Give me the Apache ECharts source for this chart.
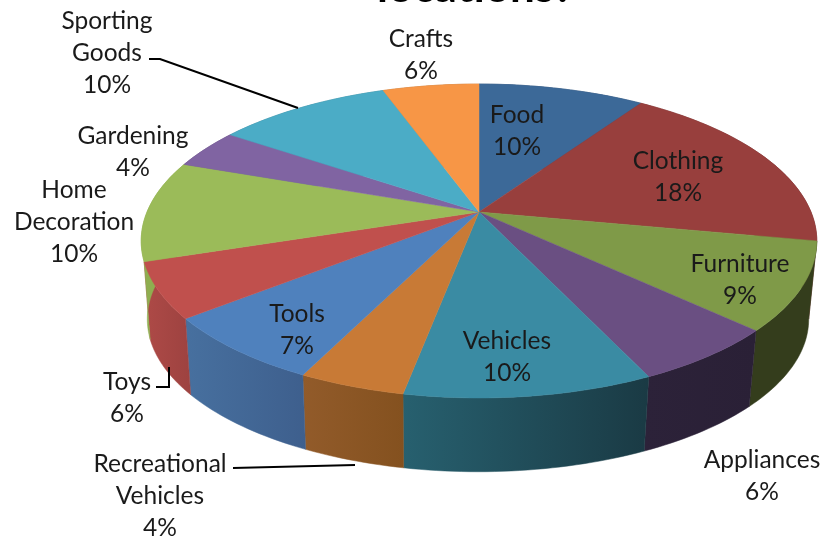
<!DOCTYPE html>
<html><head><meta charset="utf-8">
<style>html,body{margin:0;padding:0;background:#fff}#c{width:824px;height:539px}</style>
<script src="https://cdn.jsdelivr.net/npm/echarts@6/dist/echarts.min.js"></script>
</head><body><div id="c"></div>
<script>
const titleText = 'locations?';
const categories = ['Food','Clothing','Furniture','Appliances','Vehicles','Recreational\nVehicles','Tools','Toys','Home\nDecoration','Gardening','Sporting\nGoods','Crafts'];
const values = [9.5,18.45,9.05,6,10,4.3,7,5.7,10.4,4.1,10,5.5];
const percentLabels = ['10%','18%','9%','6%','10%','4%','7%','6%','10%','4%','10%','6%'];
const topColors = ['#3c6998','#983f3d','#7f9a48','#6a4f82','#3a8ba3','#c87a36','#4f81bd','#c0504d','#9bbb59','#8064a2','#4bacc6','#f79646'];
const wallLeft = ['#2b4a6d','#6d2d2c','#343d1c','#2c2239','#27606f','#925b2a','#47709f','#ae4a47','#8fae50','#5d4977','#367d90','#b36d33'];
const wallRight = ['#2b4a6d','#6d2d2c','#343d1c','#2a2036','#1a3a44','#84511f','#3e5f8d','#9d4240','#8fae50','#5d4977','#367d90','#b36d33'];

// layout (pixels)
const apex = {x:479, y:212}, K = 0.1847, A = 151.6, B = 332;
const wallScaleX = 0.979, wallScaleY = 0.972, wallX = 478, wallY = 291;
const labelPos = [[517,131],[678,177],[740,280],[762,476],[507,357],[160,496],[297,330],[127,398],[74,222],[133,152],[107,53],[421,55]];
const leaders = [
  [[149,59],[160,59],[298,108]],
  [[156,387],[169,387],[169,367]],
  [[233,468],[355,465]]
];
const FONT_SIZE = 24.5;

function rim(pct, lower){
  const t = pct/100*2*Math.PI, u = Math.sin(t), v = -Math.cos(t), d = 1 - K*v;
  const x = B*u/d, y = A*v/d;
  return lower ? [wallX + wallScaleX*x, wallY + wallScaleY*y] : [apex.x + x, apex.y + y];
}
function arc(a, b, lower){
  const pts = [], n = Math.max(2, Math.ceil((b-a)*3));
  for (let i=0;i<=n;i++) pts.push(rim(a+(b-a)*i/n, lower));
  return pts;
}
let acc = 0;
const spans = values.map(v => { const s=[acc, acc+v]; acc+=v; return s; });

const chart = echarts.init(document.getElementById('c'), null, {renderer:'canvas'});
chart.setOption({
  animation:false,
  backgroundColor:'#fff',
  title:{text:titleText, left:372, top:-39, textStyle:{fontFamily:'Lato', fontWeight:'bold', fontSize:44, color:'#000'}},
  series:[
    {type:'custom', coordinateSystem:'none', z:1, data:spans, renderItem(p, api){
      const i=p.dataIndex, a=api.value(0), b=api.value(1);
      const pts=arc(a,b,false).concat(arc(a,b,true).reverse());
      const fill=new echarts.graphic.LinearGradient(0,0,1,0,[{offset:0,color:wallLeft[i]},{offset:1,color:wallRight[i]}]);
      return {type:'polygon', shape:{points:pts}, style:{fill, stroke:fill, lineWidth:0.5}};
    }},
    {type:'custom', coordinateSystem:'none', z:2, data:spans, renderItem(p, api){
      const i=p.dataIndex, pts=[[apex.x,apex.y]].concat(arc(api.value(0),api.value(1),false));
      return {type:'polygon', shape:{points:pts}, style:{fill:topColors[i], stroke:topColors[i], lineWidth:0.5}};
    }},
    {type:'custom', coordinateSystem:'none', z:3, data:leaders.map((l,i)=>[i]), renderItem(p){
      return {type:'polyline', shape:{points:leaders[p.dataIndex]}, style:{fill:'none', stroke:'#000', lineWidth:2}};
    }},
    {type:'custom', coordinateSystem:'none', z:4, data:categories.map((c,i)=>[i]), renderItem(p){
      const i=p.dataIndex;
      return {type:'text', style:{x:labelPos[i][0], y:labelPos[i][1], text:categories[i]+'\n'+percentLabels[i],
        fontFamily:'Lato', fontSize:FONT_SIZE, fill:'#1a1a1a', align:'center', verticalAlign:'middle', lineHeight:32}};
    }}
  ]
});
</script></body></html>
